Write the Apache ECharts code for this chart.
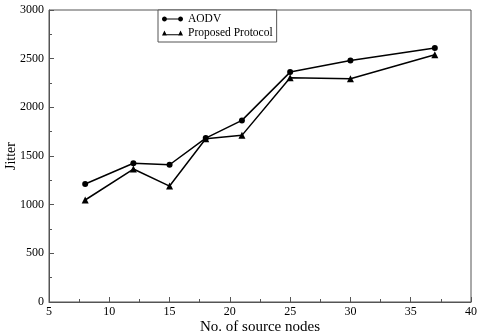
<!DOCTYPE html>
<html><head><meta charset="utf-8">
<script src="https://cdn.jsdelivr.net/npm/echarts@6/dist/echarts.min.js"></script>
<style>html,body{margin:0;padding:0;background:#fff}#c{width:481px;height:335px}</style>
</head><body><div id="c"></div>
<script>
var nodes = [8, 12, 15, 18, 21, 25, 30, 37];
var aodv = [1212, 1425, 1410, 1684, 1866, 2362, 2482, 2609];
var proposed = [1048, 1366, 1191, 1677, 1712, 2304, 2294, 2540];
var seriesNames = ['AODV', 'Proposed Protocol'];
var xTitle = 'No. of source nodes';
var yTitle = 'Jitter';

function pairs(xs, ys){ return xs.map(function(x,i){ return [x, ys[i]]; }); }
function circ(cx, cy, r){
  var s = '';
  for (var i = 0; i < 16; i++){
    var a = i / 16 * Math.PI * 2;
    s += (i ? ' L' : 'M') + (cx + r*Math.cos(a)).toFixed(2) + ',' + (cy + r*Math.sin(a)).toFixed(2);
  }
  return s + ' Z ';
}
var font = 'Liberation Serif';
var circIcon = 'path://' + circ(3.5,4,3.5) + 'M6,3.3 L24,3.3 L24,4.7 L6,4.7 Z ' + circ(26.5,4,3.5);
var triIcon = 'path://M0,8 L3.5,1 L7,8 Z M3,6.3 L27,6.3 L27,7.7 L3,7.7 Z M23,8 L26.5,1 L30,8 Z';
var chart = echarts.init(document.getElementById('c'), null, {renderer:'canvas'});
chart.setOption({
  animation:false,
  backgroundColor:'#fff',
  textStyle:{fontFamily:font},
  grid:{left:49, right:10, top:10, bottom:33, show:true, borderColor:'#555', borderWidth:1,
        containLabel:false, outerBoundsMode:'none'},
  legend:{
    orient:'vertical', left:158, top:10,
    padding:[3,4,3,4], itemGap:2, itemWidth:21, itemHeight:7,
    borderColor:'#555', borderWidth:1, backgroundColor:'#fff',
    textStyle:{fontFamily:font, fontSize:11.5, color:'#000'},
    data:[{name:seriesNames[0], icon:circIcon},{name:seriesNames[1], icon:triIcon}]
  },
  xAxis:{
    type:'value', min:5, max:40, interval:5,
    name:xTitle, nameLocation:'middle', nameGap:18, nameMoveOverlap:false,
    nameTextStyle:{fontFamily:font, fontSize:15, color:'#000'},
    axisLine:{lineStyle:{color:'#555', width:1}},
    axisTick:{inside:true, length:5, lineStyle:{color:'#555'}},
    minorTick:{show:true, splitNumber:2, length:3, lineStyle:{color:'#555'}},
    splitLine:{show:false},
    axisLabel:{fontFamily:font, fontSize:12, color:'#000', margin:4, formatter:function(v){return String(v);}}
  },
  yAxis:{
    type:'value', min:0, max:3000, interval:500,
    name:yTitle, nameLocation:'middle', nameGap:31, nameRotate:90, nameMoveOverlap:false,
    nameTextStyle:{fontFamily:font, fontSize:14, color:'#000'},
    axisLine:{lineStyle:{color:'#555', width:1}},
    axisTick:{inside:true, length:5, lineStyle:{color:'#555'}},
    minorTick:{show:true, splitNumber:2, length:3, lineStyle:{color:'#555'}},
    splitLine:{show:false},
    axisLabel:{fontFamily:font, fontSize:12, color:'#000', margin:5, formatter:function(v){return String(v);}}
  },
  series:[
    {name:seriesNames[0], type:'line', data:pairs(nodes, aodv), symbol:'circle', symbolSize:6,
     lineStyle:{color:'#000', width:1.5}, itemStyle:{color:'#000'}},
    {name:seriesNames[1], type:'line', data:pairs(nodes, proposed), symbol:'triangle', symbolSize:7,
     lineStyle:{color:'#000', width:1.5}, itemStyle:{color:'#000'}}
  ]
});
</script></body></html>
